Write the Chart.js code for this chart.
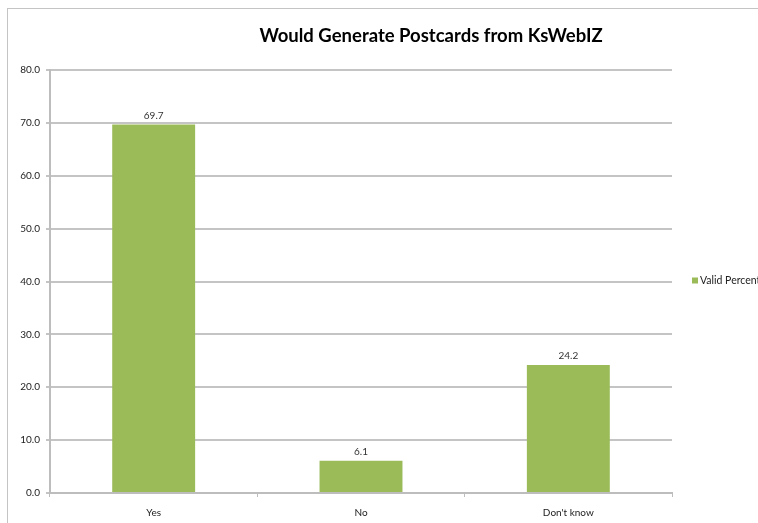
<!DOCTYPE html>
<html>
<head>
<meta charset="utf-8">
<script src="https://cdn.jsdelivr.net/npm/chart.js@4/dist/chart.umd.min.js"></script>
<style>
  html, body { margin: 0; padding: 0; background: #fff; overflow: hidden; }
  #frame {
    position: absolute; left: 7px; top: 8px;
    width: 800px; height: 530px;
    border: 1px solid #c4c4c4;
  }
  canvas { display: block; }
</style>
</head>
<body>
<div id="frame"><canvas id="chart" width="800" height="530"></canvas></div>
<script>
const categories = ["Yes", "No", "Don't know"];
const validPercent = [69.7, 6.1, 24.2];
const seriesLabel = "Valid Percent";
const chartTitle = "Would Generate Postcards from KsWebIZ";

const barColor = "#9BBB59";
const fontFamily = "Lato, 'Open Sans', sans-serif";

// title sits over the whole frame, not just the plot
const titlePlugin = {
    id: "titleText",
    afterDraw(chart) {
        const ctx = chart.ctx;
        ctx.save();
        ctx.font = "bold 18.5px " + fontFamily;
        ctx.fillStyle = "#000";
        ctx.textAlign = "center";
        ctx.textBaseline = "middle";
        ctx.fillText(chartTitle, 423, 27);
        ctx.restore();
    }
};

const valueLabels = {
    id: "valueLabels",
    afterDatasetsDraw(chart) {
        const ctx = chart.ctx;
        ctx.save();
        ctx.font = "10px " + fontFamily;
        ctx.fillStyle = "#333";
        ctx.textAlign = "center";
        ctx.textBaseline = "bottom";
        chart.getDatasetMeta(0).data.forEach((bar, i) => {
            ctx.fillText(validPercent[i].toFixed(1), bar.x, bar.y - 4);
        });
        ctx.restore();
    }
};

const sideLegend = {
    id: "sideLegend",
    afterDraw(chart) {
        const ctx = chart.ctx;
        const a = chart.chartArea;
        const y = (a.top + a.bottom) / 2;
        const x = a.right + 20;
        ctx.save();
        ctx.fillStyle = barColor;
        ctx.fillRect(x, y - 4, 6, 6);
        ctx.font = "10.5px " + fontFamily;
        ctx.fillStyle = "#222";
        ctx.textAlign = "left";
        ctx.textBaseline = "middle";
        ctx.fillText(seriesLabel, x + 8, y - 1);
        ctx.restore();
    }
};

new Chart(document.querySelector("#chart"), {
    type: "bar",
    data: {
        labels: categories,
        datasets: [{
            label: seriesLabel,
            data: validPercent,
            backgroundColor: barColor,
            borderWidth: 0,
            categoryPercentage: 1,
            barPercentage: 0.4
        }]
    },
    options: {
        responsive: false,
        animation: false,
        layout: {
            padding: { left: 0, top: 61, right: 136, bottom: 16 }
        },
        plugins: {
            legend: { display: false },
            tooltip: { enabled: false }
        },
        scales: {
            x: {
                afterFit(scale) { scale.height = 30; },
                grid: {
                    offset: true,
                    drawOnChartArea: false,
                    color: "#bdbdbd",
                    lineWidth: 1,
                    tickLength: 4
                },
                border: { color: "#bdbdbd", width: 2 },
                ticks: {
                    color: "#222",
                    padding: 10,
                    font: { family: fontFamily, size: 10 }
                }
            },
            y: {
                min: 0,
                max: 80,
                afterFit(scale) { scale.width = 42; },
                grid: {
                    color: "#c4c4c4",
                    lineWidth: 2,
                    tickLength: 4
                },
                border: { color: "#bdbdbd", width: 2 },
                ticks: {
                    stepSize: 10,
                    color: "#222",
                    padding: 6,
                    font: { family: fontFamily, size: 10 },
                    callback: v => v.toFixed(1)
                }
            }
        }
    },
    plugins: [titlePlugin, valueLabels, sideLegend]
});
</script>
</body>
</html>
